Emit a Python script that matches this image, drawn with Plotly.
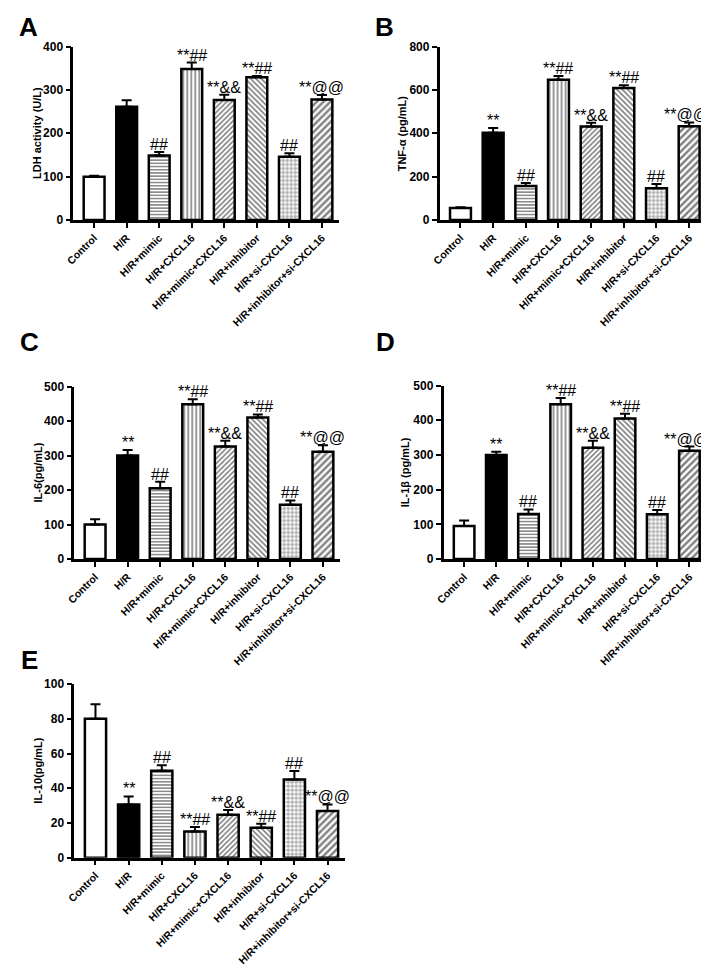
import plotly.graph_objects as go

W, H = 709, 968

groups = ["Control", "H/R", "H/R+mimic", "H/R+CXCL16", "H/R+mimic+CXCL16",
          "H/R+inhibitor", "H/R+si-CXCL16", "H/R+inhibitor+si-CXCL16"]

ldh_mean = [100, 261, 149, 348, 277, 329, 146, 278]
ldh_err = [2, 15, 8, 15, 12, 3, 8, 10]
tnf_mean = [55, 402, 157, 647, 431, 609, 146, 432]
tnf_err = [4, 22, 14, 17, 18, 13, 20, 18]
il6_mean = [100, 300, 205, 449, 326, 410, 157, 311]
il6_err = [15, 16, 19, 14, 17, 9, 13, 19]
il1b_mean = [95, 300, 130, 446, 321, 405, 129, 312]
il1b_err = [16, 9, 13, 18, 20, 14, 12, 12]
il10_mean = [80, 30.7, 50.1, 15.1, 24.7, 17.2, 45, 26.9]
il10_err = [8.4, 4.6, 3.2, 2.5, 2.8, 2.4, 5, 3.8]

marks_a = ["", "", "##", "**##", "**&&", "**##", "##", "**@@"]
marks_rest = ["", "**", "##", "**##", "**&&", "**##", "##", "**@@"]

panel_letters = ["A", "B", "C", "D", "E"]
y_titles = ["LDH activity (U/L)", "TNF-α (pg/mL)", "IL-6(pg/mL)", "IL-1β (pg/mL)", "IL-10(pg/mL)"]
y_ranges = [[0, 400], [0, 800], [0, 500], [0, 500], [0, 100]]
y_dticks = [100, 200, 100, 100, 20]

FONT = "Liberation Sans, Arial, sans-serif"

# pixel boxes: (x0, x1, ytop, ybottom)
boxes = [(57, 326, 32, 208), (428, 698, 32, 208), (58, 327, 377, 552),
         (432, 698, 376, 552), (58, 332, 679, 855)]
label_pos = [(12, 12), (372, 12), (13, 332), (373, 332), (13, 654)]
title_x = [21, 390, 21, 393, 21]

data_sets = [(ldh_mean, ldh_err, marks_a), (tnf_mean, tnf_err, marks_rest),
             (il6_mean, il6_err, marks_rest), (il1b_mean, il1b_err, marks_rest),
             (il10_mean, il10_err, marks_rest)]

def pat(shape, size, solidity):
    return dict(shape=shape, size=size, solidity=solidity, fgcolor="black", bgcolor="white")

fills = [
    dict(color="white"),
    dict(color="black"),
    dict(color="white", pattern=pat("-", 3.2, 0.45)),
    dict(color="white", pattern=pat("|", 4, 0.4)),
    dict(color="white", pattern=pat("/", 3.6, 0.45)),
    dict(color="white", pattern=pat("\\", 3.8, 0.45)),
    dict(color="white", pattern=pat("+", 4, 0.35)),
    dict(color="white", pattern=pat("/", 4.8, 0.5)),
]

fig = go.Figure()
annotations = []
layout_axes = {}

for p in range(5):
    means, errs, marks = data_sets[p]
    x0, x1, yt, yb = boxes[p]
    suffix = "" if p == 0 else str(p + 1)
    xa, ya = "x" + suffix, "y" + suffix
    for i in range(len(groups)):
        f = fills[i]
        marker = dict(color=f["color"], line=dict(color="black", width=2.5))
        if "pattern" in f:
            marker["pattern"] = f["pattern"]
        fig.add_trace(go.Bar(
            x=[i], y=[means[i]], width=0.64, marker=marker,
            error_y=dict(type="data", array=[errs[i]], arrayminus=[0], symmetric=False,
                         color="black", thickness=2, width=5),
            xaxis=xa, yaxis=ya, showlegend=False, hoverinfo="skip"))
        if marks[i]:
            ann = dict(
                x=i, y=means[i] + errs[i], xref=xa, yref=ya, text=marks[i],
                showarrow=False, yanchor="bottom", xanchor="center", yshift=-2,
                borderpad=0, font=dict(family=FONT, size=16, color="black"))
            if i == len(groups) - 1 and p in (1, 3):
                ann["xanchor"] = "right"
                ann["xshift"] = 21
            annotations.append(ann)
    layout_axes["xaxis" + suffix] = dict(
        domain=[x0 / W, x1 / W], anchor=ya, range=[-0.64, 7.52],
        tickvals=list(range(len(groups))), ticktext=groups, tickangle=-45,
        tickfont=dict(family=FONT, size=10.5, color="black", weight="bold"),
        showline=True, linewidth=2.5, linecolor="black", ticks="outside",
        ticklen=5, tickwidth=2, tickcolor="black", showgrid=False, zeroline=False,
        fixedrange=True)
    layout_axes["yaxis" + suffix] = dict(
        domain=[1 - yb / H, 1 - yt / H], anchor=xa, range=y_ranges[p],
        dtick=y_dticks[p], tick0=0,
        tickfont=dict(family=FONT, size=12, color="black", weight="bold"),
        showline=True, linewidth=2.5, linecolor="black", ticks="outside",
        ticklen=5, tickwidth=2, tickcolor="black", showgrid=False, zeroline=False,
        fixedrange=True)
    annotations.append(dict(
        x=title_x[p] / W, y=1 - ((yt + yb) / 2) / H, xref="paper", yref="paper",
        text=y_titles[p], textangle=-90, showarrow=False,
        xanchor="center", yanchor="middle",
        font=dict(family=FONT, size=11, color="black", weight="bold")))
    lx, ly = label_pos[p]
    annotations.append(dict(
        x=lx / W, y=1 - ly / H, xref="paper", yref="paper", text=panel_letters[p],
        showarrow=False, xanchor="center", yanchor="middle",
        font=dict(family=FONT, size=26, color="black", weight="bold")))

fig.update_layout(
    width=W, height=H, autosize=False,
    margin=dict(l=0, r=0, t=0, b=0),
    paper_bgcolor="white", plot_bgcolor="white",
    barmode="overlay", annotations=annotations, **layout_axes)

fig.write_html("out.html")
